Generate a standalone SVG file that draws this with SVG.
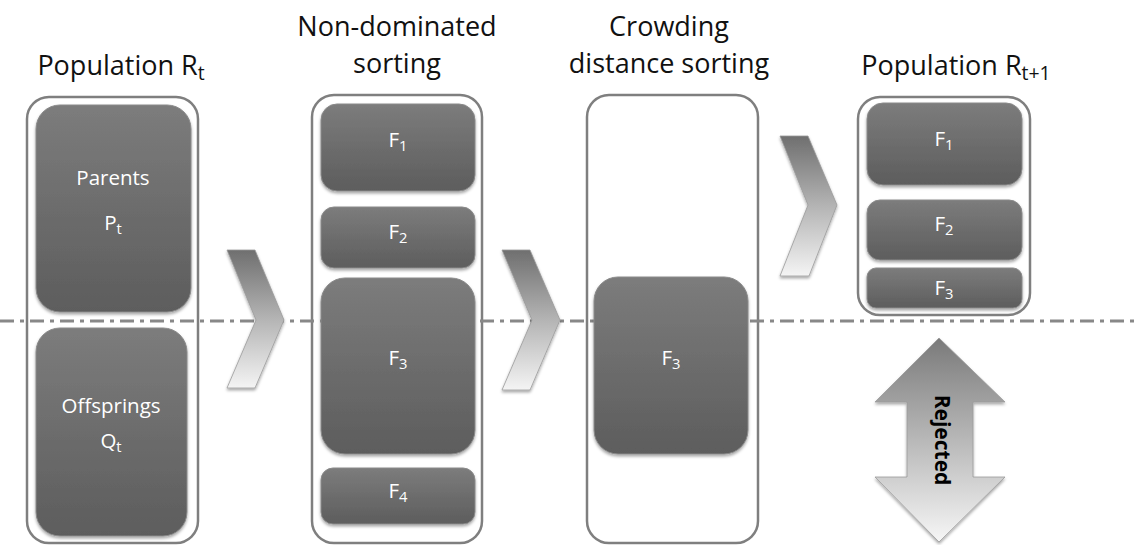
<svg xmlns="http://www.w3.org/2000/svg" width="1137" height="545" viewBox="0 0 1137 545">
  <defs>
    <linearGradient id="boxFill" x1="0" y1="0" x2="0" y2="1">
      <stop offset="0" stop-color="#7c7c7c"/>
      <stop offset="1" stop-color="#5d5d5d"/>
    </linearGradient>
    <linearGradient id="chevFill" x1="0" y1="0" x2="0" y2="1">
      <stop offset="0" stop-color="#6f6f6f"/>
      <stop offset="0.5" stop-color="#b4b4b4"/>
      <stop offset="1" stop-color="#f4f4f4"/>
    </linearGradient>
    <linearGradient id="rejFill" x1="0" y1="0" x2="0" y2="1">
      <stop offset="0" stop-color="#7a7a7a"/>
      <stop offset="0.5" stop-color="#b8b8b8"/>
      <stop offset="1" stop-color="#f6f6f6"/>
    </linearGradient>
    <filter id="shadow" x="-10%" y="-10%" width="120%" height="125%">
      <feDropShadow dx="0" dy="2" stdDeviation="1.5" flood-color="#000" flood-opacity="0.35"/>
    </filter>
    <style>
      .container { fill: #ffffff; stroke: #7f7f7f; stroke-width: 2.5; }
      .box { fill: url(#boxFill); stroke: #8a8a8a; stroke-width: 1; filter: url(#shadow); }
      .title { font-family: "Open Sans", "Liberation Sans", sans-serif; font-size: 27px; fill: #111111; text-anchor: middle; }
      .label { font-family: "Open Sans", "Liberation Sans", sans-serif; font-size: 20.5px; fill: #ffffff; text-anchor: middle; }
      .sub { font-size: 0.72em; }
      .chev { fill: url(#chevFill); stroke: #9a9a9a; stroke-width: 0.8; filter: url(#shadow); }
      .axis { stroke: #888888; stroke-width: 3; stroke-dasharray: 14 6 4 6; fill: none; }
      .rej { font-family: "Open Sans", "Liberation Sans", sans-serif; font-size: 21px; font-weight: bold; fill: #000000; text-anchor: middle; }
    </style>
  </defs>

  <!-- column titles -->
  <g id="titles">
    <text class="title" x="121" y="75">Population R<tspan class="sub" dy="5">t</tspan></text>
    <text class="title" x="397" y="36">Non-dominated</text>
    <text class="title" x="397" y="73">sorting</text>
    <text class="title" x="669" y="36">Crowding</text>
    <text class="title" x="669" y="73">distance sorting</text>
    <text class="title" x="956" y="75">Population R<tspan class="sub" dy="5">t+1</tspan></text>
  </g>

  <!-- outer containers -->
  <g id="container-rt"><rect class="container" x="27" y="97" width="171" height="446" rx="22"/></g>
  <g id="container-nds"><rect class="container" x="312" y="95" width="170" height="448" rx="22"/></g>
  <g id="container-cds"><rect class="container" x="587" y="95" width="171" height="448" rx="22"/></g>
  <g id="container-rt1"><rect class="container" x="858" y="97" width="172" height="218" rx="22"/></g>

  <!-- dash-dot cut line and flow chevrons -->
  <g id="connectors">
    <line class="axis" x1="0" y1="321" x2="1137" y2="321"/>
    <polygon class="chev" points="227,250 255,250 284,320 255,388 227,388 256,320"/>
    <polygon class="chev" points="502,250 530,250 560,320 530,390 502,390 532,320"/>
    <polygon class="chev" points="780,136 808,136 837,205 809,276 780,276 808,205"/>
  </g>

  <!-- Population R_t -->
  <g id="parents">
    <rect class="box" x="36" y="105" width="155" height="207" rx="24"/>
    <text class="label" x="113" y="185">Parents</text>
    <text class="label" x="113" y="230">P<tspan class="sub" dy="4">t</tspan></text>
  </g>
  <g id="offsprings">
    <rect class="box" x="36" y="328" width="151" height="208" rx="24"/>
    <text class="label" x="111" y="413">Offsprings</text>
    <text class="label" x="111" y="448">Q<tspan class="sub" dy="4">t</tspan></text>
  </g>

  <!-- Non-dominated sorting fronts -->
  <g id="nds-f1">
    <rect class="box" x="321" y="104" width="154" height="87" rx="16"/>
    <text class="label" x="398" y="147">F<tspan class="sub" dy="4">1</tspan></text>
  </g>
  <g id="nds-f2">
    <rect class="box" x="321" y="207" width="154" height="61" rx="13"/>
    <text class="label" x="398" y="239">F<tspan class="sub" dy="4">2</tspan></text>
  </g>
  <g id="nds-f3">
    <rect class="box" x="321" y="278" width="154" height="176" rx="24"/>
    <text class="label" x="398" y="365">F<tspan class="sub" dy="4">3</tspan></text>
  </g>
  <g id="nds-f4">
    <rect class="box" x="321" y="468" width="154" height="56" rx="12"/>
    <text class="label" x="398" y="498">F<tspan class="sub" dy="4">4</tspan></text>
  </g>

  <!-- Crowding distance sorting -->
  <g id="cds-f3">
    <rect class="box" x="594" y="277" width="154" height="177" rx="24"/>
    <text class="label" x="671" y="365">F<tspan class="sub" dy="4">3</tspan></text>
  </g>

  <!-- Population R_t+1 -->
  <g id="rt1-f1">
    <rect class="box" x="867" y="103" width="155" height="82" rx="16"/>
    <text class="label" x="944" y="146">F<tspan class="sub" dy="4">1</tspan></text>
  </g>
  <g id="rt1-f2">
    <rect class="box" x="867" y="200" width="155" height="60" rx="13"/>
    <text class="label" x="944" y="231">F<tspan class="sub" dy="4">2</tspan></text>
  </g>
  <g id="rt1-f3">
    <rect class="box" x="867" y="268" width="155" height="40" rx="9"/>
    <text class="label" x="944" y="295">F<tspan class="sub" dy="4">3</tspan></text>
  </g>

  <!-- rejected individuals -->
  <g id="rejected">
    <polygon fill="url(#rejFill)" stroke="#9a9a9a" stroke-width="0.8" filter="url(#shadow)"
      points="939,338 1005,402 973,402 973,477 1005,477 939,542 875,477 907,477 907,402 875,402"/>
    <text class="rej" transform="translate(942,440) rotate(90)" y="7">Rejected</text>
  </g>
</svg>
